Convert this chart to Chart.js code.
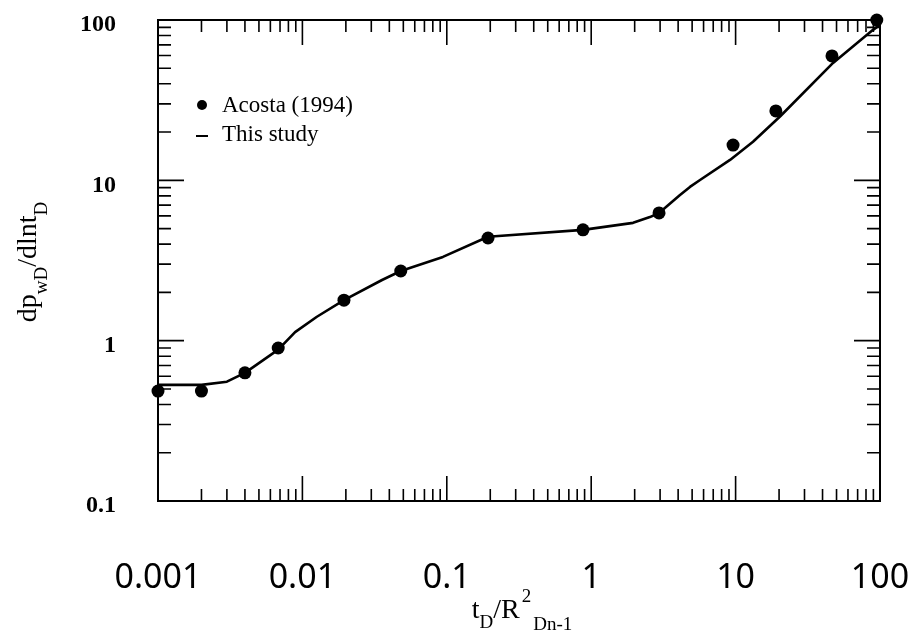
<!DOCTYPE html>
<html>
<head>
<meta charset="utf-8">
<script src="https://cdn.jsdelivr.net/npm/chart.js@4.4.1/dist/chart.umd.min.js"></script>
<style>
  html, body { margin: 0; padding: 0; background: #fff; }
  #plot { display: block; }
</style>
</head>
<body>
<canvas id="plot" width="922" height="635"></canvas>
<script>
// Acosta (1994) measurements
const acostaT = [0.001, 0.002, 0.004, 0.0068, 0.0194, 0.048, 0.193, 0.877, 2.95, 9.6, 19.0, 46.5, 95];
const acostaP = [0.485, 0.485, 0.63, 0.90, 1.79, 2.72, 4.37, 4.91, 6.26, 16.6, 27.1, 59.7, 100];

// this study (derivative curve)
const studyT = [0.001, 0.002, 0.003, 0.004, 0.0068, 0.0089, 0.0126, 0.0194, 0.0356, 0.048, 0.094, 0.193, 0.877, 1.95, 2.55, 2.95, 4.12, 4.83, 5.67, 9.15, 13.2, 20.3, 47.3, 89.5, 100];
const studyP = [0.53, 0.53, 0.555, 0.63, 0.88, 1.13, 1.41, 1.79, 2.39, 2.72, 3.33, 4.45, 4.91, 5.43, 5.9, 6.26, 8.11, 9.1, 10.05, 13.4, 17.4, 25.0, 54, 86.8, 93];

const xTickValues = [0.001, 0.01, 0.1, 1, 10, 100];
const xTickLabels = ['0.001', '0.01', '0.1', '1', '10', '100'];
const yTickValues = [0.1, 1, 10, 100];
const yTickLabels = ['0.1', '1', '10', '100'];

const legendLabels = ['Acosta (1994)', 'This study'];

const SERIF = '"Liberation Serif", "DejaVu Serif", serif';

function minorValues(min, max) {
  const out = [];
  for (let d = min; d < max * 0.999; d *= 10) {
    for (let k = 1; k <= 9; k++) out.push({ v: d * k, major: k === 1 });
  }
  out.push({ v: max, major: true });
  return out;
}

// frame and inward ticks on all four sides
const frameTicks = {
  id: 'frameTicks',
  afterDraw(chart) {
    const { ctx, chartArea: a, scales: { x, y } } = chart;
    ctx.save();
    ctx.strokeStyle = '#000';
    ctx.lineWidth = 2;
    ctx.strokeRect(a.left, a.top, a.right - a.left, a.bottom - a.top);
    ctx.beginPath();
    minorValues(x.min, x.max).forEach(t => {
      const px = x.getPixelForValue(t.v);
      const len = t.major ? 25 : 12;
      ctx.moveTo(px, a.bottom); ctx.lineTo(px, a.bottom - len);
      ctx.moveTo(px, a.top); ctx.lineTo(px, a.top + len);
    });
    minorValues(y.min, y.max).forEach(t => {
      const py = y.getPixelForValue(t.v);
      const len = t.major ? 26 : 13;
      ctx.moveTo(a.left, py); ctx.lineTo(a.left + len, py);
      ctx.moveTo(a.right, py); ctx.lineTo(a.right - len, py);
    });
    ctx.lineWidth = 1.6;
    ctx.stroke();
    ctx.restore();
  }
};

// text run with subscripts / superscripts
function drawRuns(ctx, runs, x, y) {
  runs.forEach(r => {
    ctx.font = r.font;
    ctx.fillText(r.t, x, y + (r.dy || 0));
    x += ctx.measureText(r.t).width + (r.gap || 0);
  });
}
function runsWidth(ctx, runs) {
  let w = 0;
  runs.forEach(r => { ctx.font = r.font; w += ctx.measureText(r.t).width + (r.gap || 0); });
  return w;
}

const titlesAndLegend = {
  id: 'titlesAndLegend',
  afterDraw(chart) {
    const { ctx } = chart;
    ctx.save();
    ctx.fillStyle = '#000';
    ctx.textBaseline = 'alphabetic';
    ctx.textAlign = 'left';

    const big = '28px ' + SERIF;
    const small = '19px ' + SERIF;

    // x title: t_D / R^2_Dn-1
    const xRuns = [
      { t: 't', font: big },
      { t: 'D', font: small, dy: 10 },
      { t: '/R', font: big, gap: 2 },
      { t: '2', font: small, dy: -16, gap: 2 },
      { t: 'Dn-1', font: small, dy: 12 }
    ];
    drawRuns(ctx, xRuns, 522 - runsWidth(ctx, xRuns) / 2, 618);

    // y title: dp_wD / dlnt_D
    const yRuns = [
      { t: 'dp', font: big },
      { t: 'wD', font: small, dy: 11 },
      { t: '/dlnt', font: big },
      { t: 'D', font: small, dy: 11 }
    ];
    ctx.translate(36, 262);
    ctx.rotate(-Math.PI / 2);
    drawRuns(ctx, yRuns, -runsWidth(ctx, yRuns) / 2, 0);
    ctx.setTransform(1, 0, 0, 1, 0, 0);

    // legend
    ctx.font = '23px ' + SERIF;
    ctx.textBaseline = 'middle';
    ctx.beginPath();
    ctx.arc(202, 105, 5, 0, Math.PI * 2);
    ctx.fill();
    ctx.fillText(legendLabels[0], 222, 106);
    ctx.fillRect(196, 135, 12, 2);
    ctx.fillText(legendLabels[1], 222, 135);
    ctx.restore();
  }
};

new Chart(document.getElementById('plot'), {
  type: 'scatter',
  data: {
    datasets: [
      {
        label: legendLabels[1],
        data: studyT.map((t, i) => ({ x: t, y: studyP[i] })),
        showLine: true,
        borderColor: '#000',
        borderWidth: 2.6,
        borderJoinStyle: 'round',
        pointRadius: 0,
        tension: 0,
        clip: false,
        order: 2
      },
      {
        label: legendLabels[0],
        data: acostaT.map((t, i) => ({ x: t, y: acostaP[i] })),
        showLine: false,
        backgroundColor: '#000',
        borderColor: '#000',
        pointRadius: 6.5,
        pointBorderWidth: 0,
        clip: false,
        order: 1
      }
    ]
  },
  options: {
    responsive: false,
    animation: false,
    layout: { padding: { top: 20, right: 42, left: 0, bottom: 0 } },
    plugins: { legend: { display: false }, tooltip: { enabled: false } },
    scales: {
      x: {
        type: 'logarithmic',
        min: 0.001,
        max: 100,
        grid: { display: false, drawTicks: false },
        border: { display: false },
        afterBuildTicks: s => { s.ticks = xTickValues.map(v => ({ value: v })); },
        afterFit: s => {
          s.height = 134;
          s.paddingLeft = 0; s.paddingRight = 0;
        },
        ticks: {
          autoSkip: false,
          maxRotation: 0,
          padding: 57,
          color: '#000',
          font: { family: '"Noto Sans", sans-serif', size: 34 },
          callback: v => xTickLabels[xTickValues.indexOf(v)]
        }
      },
      y: {
        type: 'logarithmic',
        min: 0.1,
        max: 100,
        grid: { display: false, drawTicks: false },
        border: { display: false },
        afterBuildTicks: s => { s.ticks = yTickValues.map(v => ({ value: v })); },
        afterFit: s => {
          s.width = 158;
          s.paddingTop = 0; s.paddingBottom = 0;
        },
        ticks: {
          autoSkip: false,
          padding: 42,
          labelOffset: 5,
          color: '#000',
          font: { family: SERIF, size: 24, weight: 'bold' },
          callback: v => yTickLabels[yTickValues.indexOf(v)]
        }
      }
    }
  },
  plugins: [frameTicks, titlesAndLegend]
});
</script>
</body>
</html>
